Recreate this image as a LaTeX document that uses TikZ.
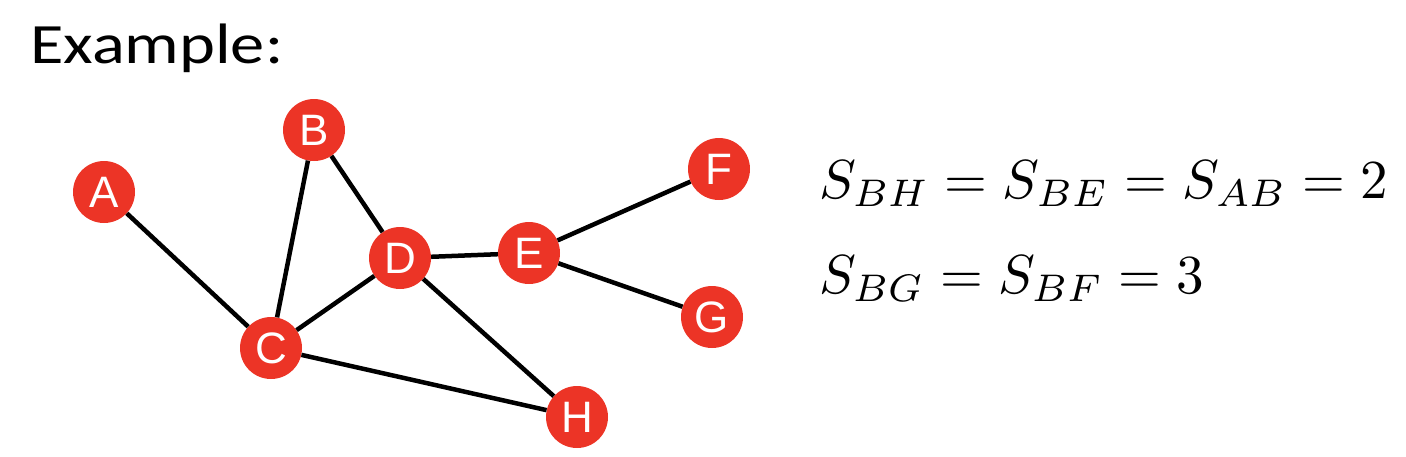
\documentclass[tikz,border=0pt]{standalone}
\usepackage{fontspec}
\setmainfont{Carlito}
\newfontfamily\vertexfont{Liberation Sans}
\definecolor{vertexred}{RGB}{236,52,38}

\tikzstyle{vertex} = [circle, fill=vertexred, text=white, minimum size=62pt, inner sep=0pt, font=\vertexfont\fontsize{44}{44}\selectfont]
\tikzstyle{edge} = [line width=4.5pt, black]
\tikzstyle{formula} = [anchor=base west, inner sep=0pt, font=\fontsize{10}{10}\selectfont, scale=5.5]

\begin{document}
\begin{tikzpicture}[x=1pt, y=-1pt]
\useasboundingbox (0,0) rectangle (1406,456);
\node (Title) [anchor=base west, inner sep=0pt, font=\fontsize{57}{57}\selectfont, xscale=1.2] at (30,63) {Example:};
% Vertices
\node [vertex] (A) at (104,192) {A};
\node [vertex] (B) at (314,130) {B};
\node [vertex] (C) at (271,348) {C};
\node [vertex] (D) at (400,258) {D};
\node [vertex] (E) at (529,253) {E};
\node [vertex] (F) at (719,169) {F};
\node [vertex] (G) at (712,317) {G};
\node [vertex] (H) at (577,417) {H};
% Paths
\draw[edge] (A) -- (C);
\draw[edge] (B) -- (C);
\draw[edge] (B) -- (D);
\draw[edge] (C) -- (D);
\draw[edge] (D) -- (E);
\draw[edge] (D) -- (H);
\draw[edge] (C) -- (H);
\draw[edge] (E) -- (F);
\draw[edge] (E) -- (G);
% Distances
\node (Eq1) [formula] at (818,198) {$S_{BH} = S_{BE} = S_{AB} = 2$};
\node (Eq2) [formula] at (818,293) {$S_{BG} = S_{BF} = 3$};
\end{tikzpicture}
\end{document}
